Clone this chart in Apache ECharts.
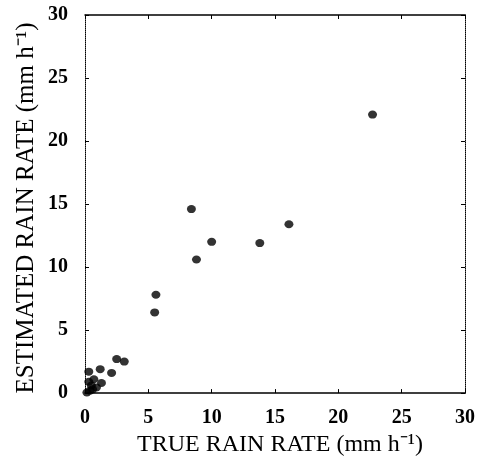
<!DOCTYPE html>
<html>
<head>
<meta charset="utf-8">
<script src="https://cdn.jsdelivr.net/npm/echarts@6/dist/echarts.min.js"></script>
<style>html,body{margin:0;padding:0;background:#fff;}#c{width:484px;height:462px;}</style>
</head>
<body>
<div id="c"></div>
<script>
var trueRate = [22.7, 8.4, 16.1, 10.0, 13.8, 8.8, 5.6, 5.5, 2.5, 3.1, 2.1, 1.2, 0.3, 1.3, 0.7, 0.5, 0.4, 0.15, 0.9, 0.3, 0.6];
var estRate  = [22.1, 14.6, 13.4, 12.0, 11.9, 10.6, 7.8, 6.4, 2.7, 2.5, 1.6, 1.9, 1.7, 0.8, 1.1, 0.6, 0.2, 0.05, 0.45, 0.9, 0.3];
var xTitle = 'TRUE RAIN RATE (mm h\u207B\u00B9)';
var yTitle = 'ESTIMATED RAIN RATE (mm h\u207B\u00B9)';
var axisMin = 0, axisMax = 30, axisStep = 5;

var pts = trueRate.map(function(x, i){ return [x, estRate[i]]; });
var font = 'Liberation Serif';
var chart = echarts.init(document.getElementById('c'), null, {renderer:'canvas'});
function axisCommon(extra){
  var o = {
    type:'value', min:axisMin, max:axisMax, interval:axisStep,
    splitLine:{show:false},
    axisTick:{show:true, inside:true, length:4, lineStyle:{color:'#000', width:1}},
    axisLabel:{show:false}
  };
  for (var k in extra) o[k] = extra[k];
  return o;
}
chart.setOption({
  animation:false,
  backgroundColor:'#fff',
  grid:{left:85, right:19, top:15, bottom:66},
  xAxis:[
    axisCommon({position:'bottom',
      axisLine:{show:true, onZero:false, lineStyle:{color:'#000', width:1.5}},
      axisLabel:{show:true, color:'#000', fontFamily:font, fontSize:20, fontWeight:'bold', margin:15},
      name:xTitle, nameLocation:'middle', nameGap:39,
      nameTextStyle:{color:'#000', fontFamily:font, fontSize:24, padding:[0,0,0,10]}}),
    axisCommon({position:'top',
      axisLine:{show:true, onZero:false, lineStyle:{color:'#000', width:1.5}}})
  ],
  yAxis:[
    axisCommon({position:'left',
      axisLine:{show:true, onZero:false, lineStyle:{color:'#000', width:1, type:'dotted'}},
      axisLabel:{show:true, color:'#000', fontFamily:font, fontSize:20, fontWeight:'bold', margin:17}}),
    axisCommon({position:'right',
      axisLine:{show:true, onZero:false, lineStyle:{color:'#000', width:1, type:'dotted'}}})
  ],
  graphic:[{
    type:'text', x:26, y:208, rotation:Math.PI/2,
    style:{text:yTitle, fill:'#000', font:'25px "Liberation Serif"', align:'center', verticalAlign:'middle'}
  }],
  series:[{
    type:'scatter', data:pts, symbol:'circle', symbolSize:[9,8],
    itemStyle:{color:'#000'}
  }]
});
</script>
</body>
</html>
